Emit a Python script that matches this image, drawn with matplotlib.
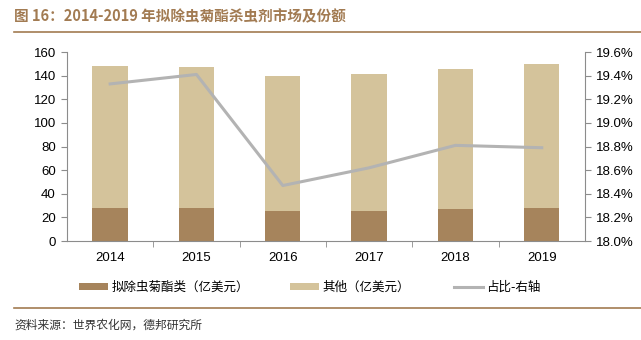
import matplotlib
matplotlib.use("Agg")
import matplotlib.pyplot as plt
import numpy as np
from matplotlib.lines import Line2D
from matplotlib.patches import Patch

plt.rcParams["font.family"] = ["Liberation Sans", "Noto Sans CJK SC", "DejaVu Sans"]

years = ["2014", "2015", "2016", "2017", "2018", "2019"]
pyrethroid = [28.2, 28.0, 25.4, 25.4, 27.0, 28.0]      # 拟除虫菊酯类（亿美元）
other = [119.8, 119.6, 114.0, 115.6, 119.0, 121.5]     # 其他（亿美元）
share = [19.33, 19.41, 18.47, 18.62, 18.81, 18.79]     # 占比（%）

C_DARK = "#a6845c"
C_LIGHT = "#d4c39b"
C_LINE = "#b3b3b3"
C_TITLE = "#a27b52"
C_AXIS = "#8c8c8c"
CJK = ["Noto Sans CJK SC", "DejaVu Sans"]

fig = plt.figure(figsize=(6.41, 3.40), dpi=100)
ax = fig.add_axes([0.1045, 0.291, 0.808, 0.556])
x = np.arange(len(years))

ax.bar(x, pyrethroid, width=0.41, color=C_DARK, zorder=2)
ax.bar(x, other, width=0.41, bottom=pyrethroid, color=C_LIGHT, zorder=2)

ax.set_xlim(-0.5, len(years) - 0.5)
ax.set_ylim(0, 160)
ax.set_yticks(range(0, 161, 20))
ax.set_xticks(x)
ax.set_xticklabels(years)
ax.set_xticks(np.arange(0.5, len(years) - 1, 1.0), minor=True)
ax.tick_params(axis="x", which="major", length=0, pad=8, labelsize=9.5)
ax.tick_params(axis="x", which="minor", length=4, color=C_AXIS)
ax.tick_params(axis="y", length=4, color=C_AXIS, labelsize=9.5, pad=4)
for side in ("top", "right"):
    ax.spines[side].set_visible(False)
for side in ("left", "bottom"):
    ax.spines[side].set_color(C_AXIS)
    ax.spines[side].set_linewidth(0.8)

ax2 = ax.twinx()
ax2.plot(x, share, color=C_LINE, linewidth=2.2, zorder=3)
ax2.set_ylim(18.0, 19.6)
ax2.set_yticks(np.arange(18.0, 19.61, 0.2))
ax2.set_yticklabels([f"{v:.1f}%" for v in np.arange(18.0, 19.61, 0.2)])
ax2.tick_params(axis="y", length=4, color=C_AXIS, labelsize=9.5, pad=4)
for side in ("top", "left", "bottom"):
    ax2.spines[side].set_visible(False)
ax2.spines["right"].set_color(C_AXIS)
ax2.spines["right"].set_linewidth(0.8)

# legend row under the plot, one entry at a time
entries = [
    (Patch(facecolor=C_DARK, edgecolor="none"), "拟除虫菊酯类（亿美元）", 0.124),
    (Patch(facecolor=C_LIGHT, edgecolor="none"), "其他（亿美元）", 0.453),
    (Line2D([], [], color=C_LINE, linewidth=2.2), "占比-右轴", 0.708),
]
for handle, label, xpos in entries:
    fig.legend([handle], [label], loc="center left", bbox_to_anchor=(xpos, 0.155),
               frameon=False, prop={"family": CJK, "size": 9}, borderpad=0,
               borderaxespad=0, handlelength=2.3, handleheight=0.55,
               handletextpad=0.3)

# title, rules and source note
fig.text(0.022, 0.952, "图 16：2014-2019 年拟除虫菊酯杀虫剂市场及份额",
         family=CJK, fontsize=10.5, fontweight="bold", color=C_TITLE,
         va="center", ha="left")
fig.add_artist(Line2D([0.022, 1.0], [0.906, 0.906], color=C_TITLE, linewidth=1.2))
fig.add_artist(Line2D([0.022, 1.0], [0.094, 0.094], color=C_TITLE, linewidth=1.2))
fig.text(0.022, 0.045, "资料来源：世界农化网，德邦研究所", family=CJK,
         fontsize=8.5, color="#333333", va="center", ha="left")

fig.savefig("out.png", dpi=100, facecolor="white")
